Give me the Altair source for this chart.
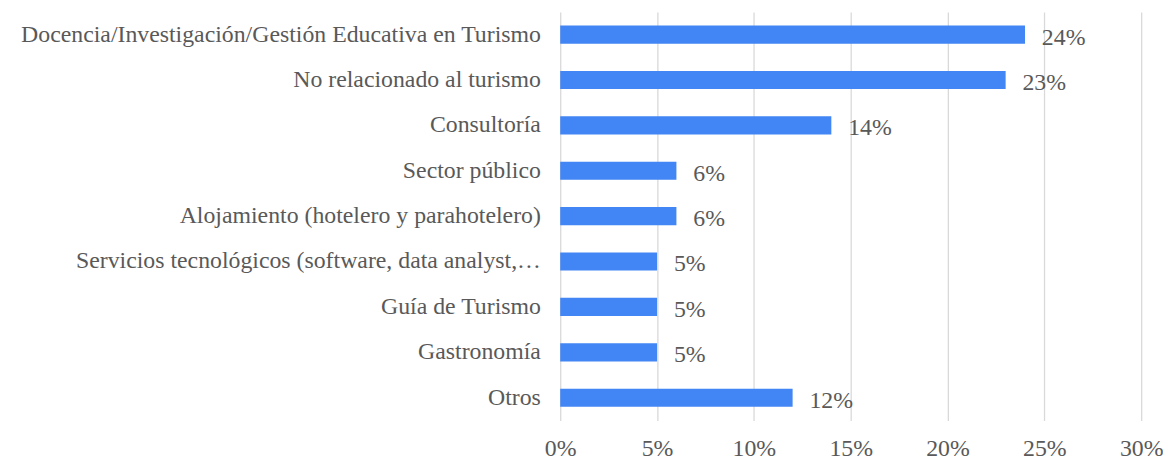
import altair as alt
import pandas as pd

categories = [
    "Docencia/Investigación/Gestión Educativa en Turismo",
    "No relacionado al turismo",
    "Consultoría",
    "Sector público",
    "Alojamiento (hotelero y parahotelero)",
    "Servicios tecnológicos (software, data analyst,…",
    "Guía de Turismo",
    "Gastronomía",
    "Otros",
]
values = [0.24, 0.23, 0.14, 0.06, 0.06, 0.05, 0.05, 0.05, 0.12]
labels = ["24%", "23%", "14%", "6%", "6%", "5%", "5%", "5%", "12%"]

df = pd.DataFrame({"cat": categories, "val": values, "lab": labels})

FONT = "Liberation Serif"
TXT = "#595959"
FS = 24

y = alt.Y("cat:N", sort=categories, title=None,
          scale=alt.Scale(paddingInner=0.6, paddingOuter=0.3),
          axis=alt.Axis(domain=False, ticks=False, labelFont=FONT, labelFontSize=FS,
                        labelColor=TXT, labelPadding=20, labelLimit=700, grid=False))
x = alt.X("val:Q", title=None,
          scale=alt.Scale(domain=[0, 0.30], nice=False),
          axis=alt.Axis(format=".0%", values=[0, 0.05, 0.10, 0.15, 0.20, 0.25, 0.30],
                        domain=False, ticks=False, labelFont=FONT, labelFontSize=FS,
                        labelColor=TXT, labelPadding=16, labelFlush=False, grid=True,
                        gridColor="#d9d9d9", gridWidth=1.3))

bars = alt.Chart(df).mark_bar(color="#4285f4").encode(x=x, y=y)
text = alt.Chart(df).mark_text(align="left", dx=17, dy=3, font=FONT, fontSize=FS,
                               color=TXT).encode(x="val:Q", y=alt.Y("cat:N", sort=categories), text="lab:N")

chart = (bars + text).properties(
    width=586, height=412,
    padding={"left": 12, "top": 2, "right": 0, "bottom": 0},
).configure_view(stroke=None)

chart.save("out.html", embed_options={"renderer": "svg", "actions": False})
